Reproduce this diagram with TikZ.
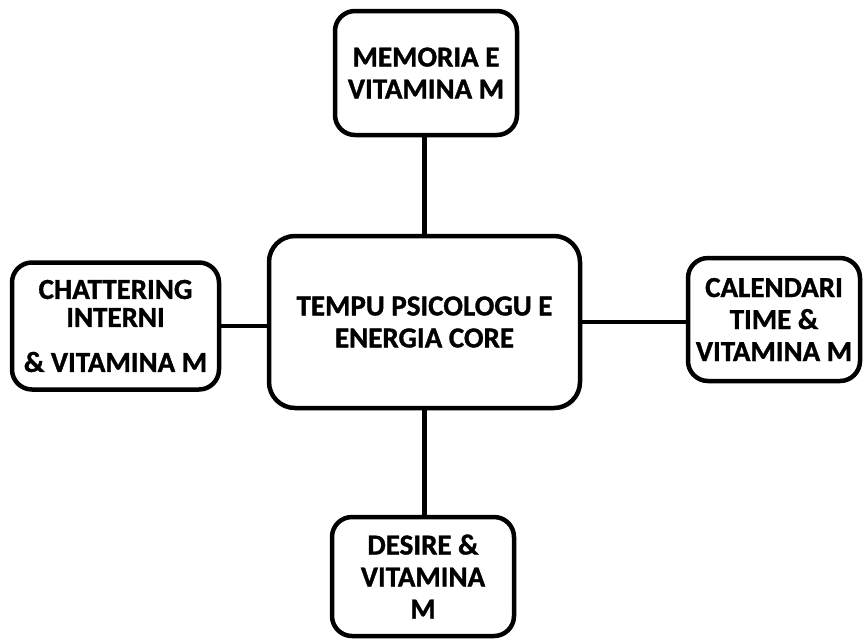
\documentclass[tikz,border=0pt]{standalone}
\usepackage{fontspec}
\setmainfont{Carlito}
% heavier bold face for the box labels
\newfontfamily\heavy{Carlito Bold}[FakeBold=1.2]
\begin{document}
\begin{tikzpicture}[x=1pt,y=-1pt,
  box/.style={draw=black, line width=4.5pt, rounded corners=20pt, fill=white,
    inner sep=0pt, align=center,
    font=\heavy\fontsize{29}{32}\selectfont},
  link/.style={draw=black, line width=4.5pt}]
  \useasboundingbox (0,0) rectangle (864,641);
  % central topic
  \node[box, rounded corners=26pt, minimum width=311pt, minimum height=172pt] (core) at (424.5,322)
    {TEMPU PSICOLOGU E\\ENERGIA CORE};
  % surrounding topics
  \node[box, minimum width=182pt, minimum height=124pt] (top) at (426,73)
    {MEMORIA E\\VITAMINA M};
  \node[box, minimum width=207pt, minimum height=127pt] (lft) at (115.5,326)
    {CHATTERING\\[-4pt]INTERNI\\[13pt]\& VITAMINA M};
  \node[box, minimum width=172pt, minimum height=123pt] (rgt) at (774,319.5)
    {CALENDARI\\TIME \&\\VITAMINA M};
  \node[box, minimum width=182pt, minimum height=119pt] (bot) at (423,576.5)
    {DESIRE \&\\VITAMINA\\M};
  % connectors
  \draw[link] (core.north) -- (core.north |- top.south);
  \draw[link] (core.south) -- (core.south |- bot.north);
  \draw[link] (lft.east) -- (lft.east -| core.west);
  \draw[link] (core.east) -- (core.east -| rgt.west);
\end{tikzpicture}
\end{document}
